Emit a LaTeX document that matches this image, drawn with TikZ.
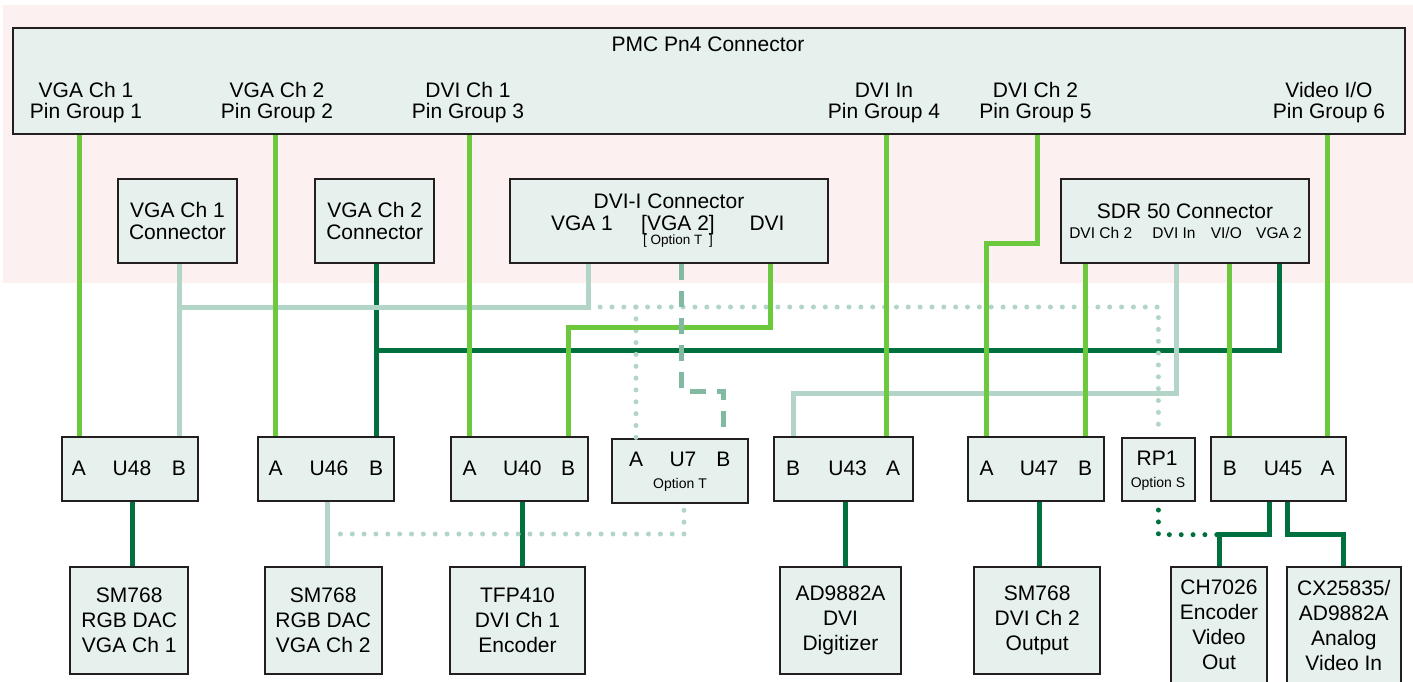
\documentclass[tikz,border=0pt]{standalone}
\usepackage{fontspec}
\setmainfont{Liberation Sans}
\usetikzlibrary{calc}
\definecolor{bgreen}{HTML}{6CC83C}
\definecolor{dgreen}{HTML}{00703F}
\definecolor{lgreen}{HTML}{B3D5C7}
\definecolor{mgreen}{HTML}{82B9A1}
\definecolor{boxfill}{HTML}{E6F0EC}
\definecolor{pinkbg}{HTML}{FDF0F0}
\definecolor{edge}{HTML}{231F20}
\begin{document}
\begin{tikzpicture}[x=1pt,y=-1pt,
 blk/.style={draw=edge,fill=boxfill,line width=2pt,inner sep=0pt,align=center,font=\fontsize{21}{25}\selectfont},
 lbl/.style={inner sep=0pt,anchor=base,font=\fontsize{21}{21}\selectfont},
 twol/.style={inner sep=0pt,align=center,font=\fontsize{21}{21}\selectfont},
 sml/.style={inner sep=0pt,anchor=base,font=\fontsize{15.5}{15.5}\selectfont},
 tny/.style={inner sep=0pt,anchor=base,font=\fontsize{13.5}{13.5}\selectfont},
 gline/.style={draw=bgreen,line width=5pt},
 dline/.style={draw=dgreen,line width=5pt},
 lline/.style={draw=lgreen,line width=5pt},
 dotl/.style={draw=lgreen,line width=5pt,line cap=round,dash pattern=on 0pt off 11.85pt},
 dotd/.style={draw=dgreen,line width=5pt,line cap=round,dash pattern=on 0pt off 11.85pt},
 dashl/.style={draw=mgreen,line width=5pt,dash pattern=on 16pt off 11pt},
]
\useasboundingbox (0,0) rectangle (1413,681);
\fill[white] (0,0) rectangle (1413,681);
\fill[pinkbg] (3,5) rectangle (1413,283);

% PMC connector
\node[blk,minimum width=1392pt,minimum height=106pt] (pmc) at (709,81) {};
\node[lbl] (pmct) at (708,51) {PMC Pn4 Connector};
\node[twol] (pg1) at (86,103) {VGA Ch 1\\Pin Group 1};
\node[twol] (pg2) at (277,103) {VGA Ch 2\\Pin Group 2};
\node[twol] (pg3) at (468,103) {DVI Ch 1\\Pin Group 3};
\node[twol] (pg4) at (884,103) {DVI In\\Pin Group 4};
\node[twol] (pg5) at (1035.5,103) {DVI Ch 2\\Pin Group 5};
\node[twol] (pg6) at (1329,103) {Video I/O\\Pin Group 6};

% connectors
\node[blk,minimum width=119pt,minimum height=84pt,font=\fontsize{21}{21.5}\selectfont] (vga1c) at (177.5,221) {VGA Ch 1\\Connector};
\node[blk,minimum width=119pt,minimum height=84pt,font=\fontsize{21}{21.5}\selectfont] (vga2c) at (374.7,221) {VGA Ch 2\\Connector};
\node[blk,minimum width=318.7pt,minimum height=84pt] (dvii) at (669,221) {};
\node[lbl] (dvit) at (669,208) {DVI-I Connector};
\node[lbl] (dvivga1) at (582,230) {VGA 1};
\node[lbl] (dvivga2) at (678,230) {[VGA 2]};
\node[lbl] (dvidvi) at (767,230) {DVI};
\node[tny] (dviopt) at (678,244) {[ Option T\enspace]};
\node[blk,minimum width=248pt,minimum height=84pt] (sdr) at (1185,221) {};
\node[lbl] (sdrt) at (1185,218) {SDR 50 Connector};
\node[sml] (sdrdvich2) at (1100.7,238) {DVI Ch 2};
\node[sml] (sdrdviin) at (1174,238) {DVI In};
\node[sml] (sdrvio) at (1226.3,238) {VI/O};
\node[sml] (sdrvga2) at (1279,238) {VGA 2};

% switches
\node[blk,minimum width=136pt,minimum height=63.3pt] (u48) at (129.5,469) {};
\node[lbl] (u48a) at (79,475) {A};
\node[lbl] (u48n) at (132,475) {U48};
\node[lbl] (u48b) at (179,475) {B};
\node[blk,minimum width=136pt,minimum height=63.3pt] (u46) at (326,469) {};
\node[lbl] (u46a) at (275.5,475) {A};
\node[lbl] (u46n) at (329,475) {U46};
\node[lbl] (u46b) at (376,475) {B};
\node[blk,minimum width=136.4pt,minimum height=63.3pt] (u40) at (519.5,469) {};
\node[lbl] (u40a) at (469.5,475) {A};
\node[lbl] (u40n) at (522.3,475) {U40};
\node[lbl] (u40b) at (568,475) {B};
\node[blk,minimum width=136pt,minimum height=63.3pt] (u7) at (680.3,471) {};
\node[lbl] (u7a) at (636,466.7) {A};
\node[lbl] (u7n) at (683,466.7) {U7};
\node[lbl] (u7b) at (723.3,466.7) {B};
\node[tny,font=\fontsize{14}{14}\selectfont] (u7o) at (680,488) {Option T};
\node[blk,minimum width=139pt,minimum height=63.3pt] (u43) at (843.5,469) {};
\node[lbl] (u43b) at (793,475) {B};
\node[lbl] (u43n) at (847.6,475) {U43};
\node[lbl] (u43a) at (893,475) {A};
\node[blk,minimum width=135.6pt,minimum height=63.3pt] (u47) at (1036.2,469) {};
\node[lbl] (u47a) at (986.5,475) {A};
\node[lbl] (u47n) at (1039,475) {U47};
\node[lbl] (u47b) at (1085,475) {B};
\node[blk,minimum width=72.3pt,minimum height=62.7pt] (rp1) at (1158.4,469.7) {};
\node[lbl] (rp1n) at (1157,465) {RP1};
\node[tny,font=\fontsize{14}{14}\selectfont] (rp1o) at (1158,487.3) {Option S};
\node[blk,minimum width=134.6pt,minimum height=63.3pt] (u45) at (1278.7,469) {};
\node[lbl] (u45b) at (1229.8,475) {B};
\node[lbl] (u45n) at (1283,475) {U45};
\node[lbl] (u45a) at (1327.5,475) {A};

% devices
\node[blk,minimum width=118pt,minimum height=106.7pt] (sm1) at (129.2,620.7) {SM768\\RGB DAC\\VGA Ch 1};
\node[blk,minimum width=116.6pt,minimum height=106.7pt] (sm2) at (323.2,620.7) {SM768\\RGB DAC\\VGA Ch 2};
\node[blk,minimum width=135pt,minimum height=106.7pt] (tfp) at (517.5,620.7) {TFP410\\DVI Ch 1\\Encoder};
\node[blk,minimum width=121pt,minimum height=106.7pt] (ad) at (840.5,620.7) {AD9882A\\DVI\\Digitizer};
\node[blk,minimum width=126.5pt,minimum height=106.7pt] (sm3) at (1037.2,620.7) {SM768\\DVI Ch 2\\Output};
\node[blk,minimum width=96.4pt,minimum height=116pt] (ch) at (1219,625) {CH7026\\Encoder\\Video\\Out};
\node[blk,minimum width=113.7pt,minimum height=116pt] (cx) at (1343.8,625) {CX25835/\\AD9882A\\Analog\\Video In};

% dark connections
\draw[dline] (u46b |- vga2c.south) -- (u46b |- u46.north);
\draw[dline] (sdrvga2 |- sdr.south) |- (u46b |- 0,350);
\draw[dline] (u48n |- u48.south) -- (u48n |- sm1.north);
\draw[dline] (u40n |- u40.south) -- (u40n |- tfp.north);
\draw[dline] ($(u43n |- u43.south)+(-2.5,0)$) -- ($(u43n |- ad.north)+(-2.5,0)$);
\draw[dline] (u47n |- u47.south) -- (u47n |- sm3.north);
\draw[dline] ([xshift=-9pt]u45.south) -- ++(0,33) coordinate (chk) -| (ch.north);
\draw[dline] ([xshift=9pt]u45.south) -- ++(0,33) -| (cx.north);
\draw[dotd] ($(rp1.south)+(0,8)$) |- (chk -| ch.north);

% light connections
\draw[lline] (u48b |- vga1c.south) -- (u48b |- u48.north);
\draw[lline] ($(dvivga1 |- dvii.south)+(6.3,0)$) -- ++(0,43) coordinate (lk) -- (u48b |- lk);
\draw[lline] ($(sdrdviin |- sdr.south)+(2,0)$) |- (u43b |- 0,393) -- (u43b |- u43.north);
\draw[lline] ($(u46n |- u46.south)+(-2,0)$) -- ($(u46n |- sm2.north)+(-2,0)$);

% dotted light connections
\draw[dotl] (lk) -- (rp1 |- lk) -- ($(rp1.north)+(0,-5)$);
\draw[dotl] (u7a |- lk) -- (u7a |- u7.north);
\draw[dotl] ($(u7n |- u7.south)+(1,6.6)$) |- ($(u46n |- 0,534)+(11.35,0)$);

% bright green connections
\draw[gline] (u48a |- pmc.south) -- (u48a |- u48.north);
\draw[gline] (u46a |- pmc.south) -- (u46a |- u46.north);
\draw[gline] (u40a |- pmc.south) -- (u40a |- u40.north);
\draw[gline] ($(u43a |- pmc.south)+(-6.5,0)$) -- ($(u43a |- u43.north)+(-6.5,0)$);
\draw[gline] ($(pg5 |- pmc.south)+(2,0)$) -- ++(0,108) -| (u47a |- u47.north);
\draw[gline] (u45a |- pmc.south) -- (u45a |- u45.north);
\draw[gline] ($(dvidvi |- dvii.south)+(3.7,0)$) -- ++(0,63) -| (u40b |- u40.north);
\draw[gline] (u47b |- sdr.south) -- (u47b |- u47.north);
\draw[gline] (u45b |- sdr.south) -- (u45b |- u45.north);

% dashed option T
\draw[dashl] ($(dvivga2 |- dvii.south)+(3.7,0)$) |- (u7b |- 0,391) -- (u7b |- u7.north);
\end{tikzpicture}
\end{document}
